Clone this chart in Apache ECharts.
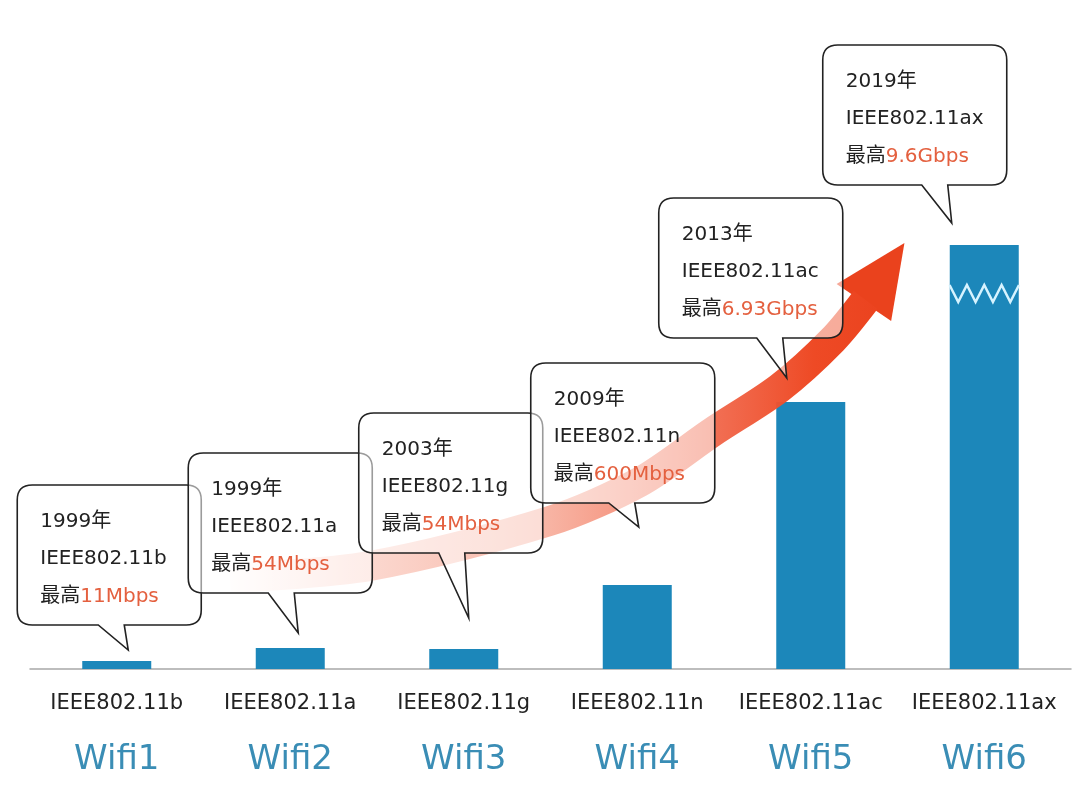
<!DOCTYPE html>
<html>
<head>
<meta charset="utf-8">
<script src="https://cdn.jsdelivr.net/npm/echarts@6.0.0/dist/echarts.min.js"></script>
<style>
html, body { margin: 0; padding: 0; background: #fff; }
#main { width: 1080px; height: 800px; }
</style>
</head>
<body>
<div id="main"></div>
<script>
// 数据
var categories = ['IEEE802.11b', 'IEEE802.11a', 'IEEE802.11g', 'IEEE802.11n', 'IEEE802.11ac', 'IEEE802.11ax'];
var generations = ['Wifi1', 'Wifi2', 'Wifi3', 'Wifi4', 'Wifi5', 'Wifi6'];
var barHeights = [8, 21, 20, 84, 267, 424];
var years = ['1999年', '1999年', '2003年', '2009年', '2013年', '2019年'];
var maxSpeeds = ['11Mbps', '54Mbps', '54Mbps', '600Mbps', '6.93Gbps', '9.6Gbps'];

// 趋势箭头 (x为类目位置, y为数值)
var arrowX = [0.652, 1.459, 2.495, 3.014, 3.434, 3.820, 4.126, 4.316];
var arrowY = [91, 103, 148, 187, 237, 281, 329, 369];
var arrowTip = [4.540, 426];

// 气泡框布局: 尾尖高度, 尾尖相对柱中心偏移, 尾长, 框左边相对尾尖
var tipHeight = [19, 36, 51, 142, 291, 446];
var tipDx = [11.5, 8, 5, 1.5, -24, -32.5];
var tailLen = [25, 40, 65, 24, 40, 38];
var boxDx = [-111, -110, -110, -108, -128, -129];

var FONT = "'DejaVu Sans','Noto Sans CJK SC',sans-serif";
var BOX_W = 184, BOX_H = 140, R = 15;

var arrowData = arrowX.map(function (x, i) { return [x, arrowY[i]]; });
var calloutData = tipHeight.map(function (h, i) { return [i, h]; });

function calloutItem(params, api) {
	var i = params.dataIndex;
	var tip = api.coord([api.value(0), api.value(1)]);
	tip[0] += tipDx[i];
	var B = tip[1] - tailLen[i];
	var T = B - BOX_H;
	var L = tip[0] + boxDx[i];
	var Rt = L + BOX_W;
	var tl = tip[0] - 30, tr = tip[0] - 4;
	var d = 'M' + (L + R) + ',' + T + ' L' + (Rt - R) + ',' + T +
		' Q' + Rt + ',' + T + ' ' + Rt + ',' + (T + R) +
		' L' + Rt + ',' + (B - R) +
		' Q' + Rt + ',' + B + ' ' + (Rt - R) + ',' + B +
		' L' + tr + ',' + B + ' L' + tip[0] + ',' + tip[1] + ' L' + tl + ',' + B +
		' L' + (L + R) + ',' + B +
		' Q' + L + ',' + B + ' ' + L + ',' + (B - R) +
		' L' + L + ',' + (T + R) +
		' Q' + L + ',' + T + ' ' + (L + R) + ',' + T + ' Z';
	var tx = L + 23;
	return {
		type : 'group',
		children : [ {
			type : 'path',
			shape : { pathData : d },
			style : { fill : 'rgba(255,255,255,0.55)', stroke : '#222', lineWidth : 1.6 }
		}, {
			type : 'text', x : tx, y : T + 37,
			style : { text : years[i], fill : '#222', font : '20px ' + FONT, verticalAlign : 'middle' }
		}, {
			type : 'text', x : tx, y : T + 74,
			style : { text : categories[i], fill : '#222', font : '20px ' + FONT, verticalAlign : 'middle' }
		}, {
			type : 'text', x : tx, y : T + 112,
			style : { text : '最高', fill : '#222', font : '20px ' + FONT, verticalAlign : 'middle' }
		}, {
			type : 'text', x : tx + 40, y : T + 112,
			style : { text : maxSpeeds[i], fill : '#e4603f', font : '20px ' + FONT, verticalAlign : 'middle' }
		} ]
	};
}

function arrowHead(params, api) {
	var base = api.coord([api.value(0), api.value(1)]);
	var tip = api.coord([api.value(2), api.value(3)]);
	var dx = tip[0] - base[0], dy = tip[1] - base[1];
	var len = Math.sqrt(dx * dx + dy * dy);
	var px = -dy / len * 33, py = dx / len * 33;
	var bx = base[0] - dx / len * 3, by = base[1] - dy / len * 3;
	return {
		type : 'polygon',
		shape : { points : [ tip, [bx + px, by + py], [bx - px, by - py] ] },
		style : { fill : '#ea421d' }
	};
}

function zigzag(params, api) {
	var c = api.coord([api.value(0), api.value(1)]);
	var w = api.size([1, 0])[0] * 0.4;
	var pts = [];
	for (var k = 0; k <= 8; k++) {
		pts.push([c[0] - w / 2 + w * k / 8, c[1] + (k % 2 ? 9 : -8)]);
	}
	return {
		type : 'polyline',
		shape : { points : pts },
		style : { stroke : '#d6f3ff', lineWidth : 2.5, fill : null }
	};
}

var option = {
	backgroundColor : '#fff',
	animation : false,
	grid : {
		left : 30,
		right : 9,
		top : 45,
		bottom : 131,
		containLabel : false,
		outerBoundsMode : 'none'
	},
	xAxis : [ {
		type : 'category',
		data : categories,
		axisLine : { lineStyle : { color : '#a8a8a8', width : 1.5 } },
		axisTick : { show : false },
		axisLabel : {
			margin : 15,
			interval : 0,
			formatter : function (v, i) {
				return '{a|' + v + '}\n{b|' + generations[i] + '}';
			},
			rich : {
				a : { fontSize : 21, lineHeight : 40, color : '#222', fontFamily : FONT },
				b : { fontSize : 34, lineHeight : 72, color : '#3a8db5', fontFamily : FONT }
			}
		}
	}, {
		type : 'value',
		min : -0.5,
		max : 5.5,
		show : false
	} ],
	yAxis : {
		type : 'value',
		min : 0,
		max : 624,
		show : false
	},
	series : [ {
		name : 'bar',
		type : 'bar',
		barWidth : 69,
		data : barHeights,
		itemStyle : { color : '#1c87ba' },
		z : 1
	}, {
		name : 'zigzag',
		type : 'custom',
		xAxisIndex : 0,
		data : [ [5, 376] ],
		renderItem : zigzag,
		z : 2
	}, {
		name : 'arrow',
		type : 'line',
		xAxisIndex : 1,
		smooth : 0.3,
		showSymbol : false,
		symbol : 'none',
		data : arrowData,
		lineStyle : {
			width : 30,
			cap : 'butt',
			color : new echarts.graphic.LinearGradient(0, 0, 1, 0, [
				{ offset : 0, color : 'rgba(248,175,155,0)' },
				{ offset : 0.2, color : 'rgba(247,165,145,0.4)' },
				{ offset : 0.5, color : 'rgba(244,140,115,0.65)' },
				{ offset : 0.75, color : 'rgba(240,95,65,0.9)' },
				{ offset : 0.9, color : '#ee4a25' },
				{ offset : 1, color : '#eb431f' }
			])
		},
		z : 3
	}, {
		name : 'arrowHead',
		type : 'custom',
		xAxisIndex : 1,
		data : [ [arrowX[arrowX.length - 1], arrowY[arrowY.length - 1], arrowTip[0], arrowTip[1]] ],
		renderItem : arrowHead,
		z : 3
	}, {
		name : 'callout',
		type : 'custom',
		xAxisIndex : 0,
		data : calloutData,
		renderItem : calloutItem,
		z : 5
	} ]
};

var myChart = echarts.init(document.getElementById('main'));
myChart.setOption(option);
</script>
</body>
</html>
